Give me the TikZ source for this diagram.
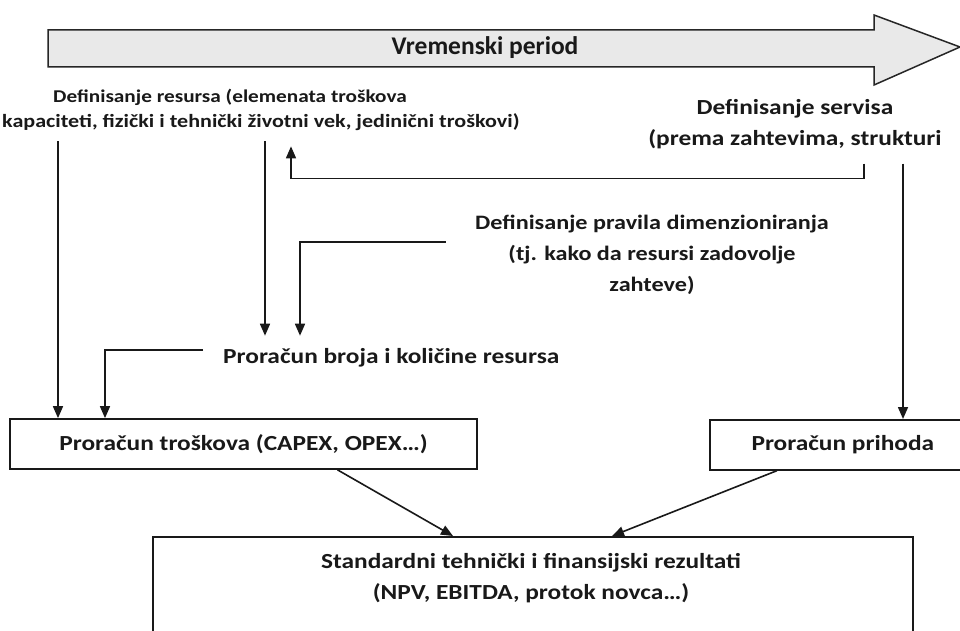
\documentclass[tikz,border=0pt]{standalone}
\usepackage{fontspec}
\setmainfont{Carlito}
% labels are set in a horizontally widened Carlito
\newfontfamily\lblfont{Carlito}[FakeStretch=1.18]
\usetikzlibrary{arrows.meta,calc}
\begin{document}
\begin{tikzpicture}[x=1pt,y=-1pt,
  lbl/.style={font=\lblfont\bfseries\fontsize{21.5}{30.5}\selectfont, inner sep=0pt, align=center, text=black!90},
  smalllbl/.style={inner sep=0pt, text=black!90},
  boxnode/.style={draw=black!90, line width=1.7pt, fill=white, inner sep=0pt, text=black!90,
    font=\lblfont\bfseries\fontsize{21.5}{30}\selectfont},
  conn/.style={draw=black!90, line width=1.6pt, -{Triangle[width=10pt,length=12pt]}},
  timearrow/.style={draw=black!85, line width=1.5pt, fill=gray!17, line join=miter}
]
\useasboundingbox (0,0) rectangle (960,631);

% time axis arrow
\draw[timearrow] (48,30) -- (874,30) -- (874,15) -- (960,47) -- (874,85) -- (874,67) -- (48,67) -- cycle;
\node[font=\bfseries\fontsize{25.5}{30}\selectfont, inner sep=0pt, anchor=base, text=black!90] (time) at (485,55) {Vremenski period};

% text labels
\node[smalllbl, font=\lblfont\bfseries\fontsize{18}{25}\selectfont, anchor=base west] (resA) at (53,103) {Definisanje resursa (elemenata troškova};
\node[smalllbl, font=\lblfont\bfseries\fontsize{18.7}{25}\selectfont, anchor=base west] (resB) at (2,128) {kapaciteti, fizički i tehnički životni vek, jedinični troškovi)};
\node[lbl] (serv) at (795,124) {Definisanje servisa\\(prema zahtevima, strukturi};
\node[lbl, font=\lblfont\bfseries\fontsize{20.5}{31}\selectfont] (prav) at (652,255) {Definisanje pravila dimenzioniranja\\(tj. kako da resursi zadovolje\\zahteve)};
\node[lbl, anchor=base west] (broj) at (223,363) {Proračun broja i količine resursa};

% boxes
\node[boxnode, minimum width=467pt, minimum height=50pt] (trosk) at (243.5,444) {Proračun troškova (CAPEX, OPEX…)};
\node[boxnode, minimum width=252pt, minimum height=50pt, anchor=north west] (prih) at (709,419) {\hspace*{14pt}Proračun prihoda};
\node[boxnode, minimum width=760pt, minimum height=130pt, anchor=north] (res) at (533,536) {};
\node[lbl] (restxt) at (531,578) {Standardni tehnički i finansijski rezultati\\(NPV, EBITDA, protok novca…)};

% column positions of the vertical connectors
\coordinate (xA) at (58,0);
\coordinate (xB) at (105,0);
\coordinate (xC) at (265,0);
\coordinate (xD) at (300,0);
\coordinate (xE) at (291,0);
\coordinate (xF) at (864,0);
\coordinate (xG) at (903,0);

% connectors
\draw[conn] ($(resB.south -| xA)+(0,10)$) -- (trosk.north -| xA);
\draw[conn] ($(resB.south -| xC)+(0,10)$) -- ($(broj.north -| xC)+(0,-12)$);
\draw[conn] ($(serv.south -| xF)+(0,15)$) -- ++(0,15) -| ($(resB.south -| xE)+(0,15)$);
\draw[conn] ($(serv.south -| xG)+(0,15)$) -- (prih.north -| xG);
\draw[conn] ($(prav.west)+(-29,-13)$) -| ($(broj.north -| xD)+(0,-12)$);
\draw[conn] ($(broj.west)+(-20,-7)$) -| (trosk.north -| xB);
\draw[conn] ($(trosk.south)+(94,0)$) -- ($(res.north)+(-80,0)$);
\draw[conn] ($(prih.south)+(-59,0)$) -- ($(res.north)+(79,0)$);
\end{tikzpicture}
\end{document}
